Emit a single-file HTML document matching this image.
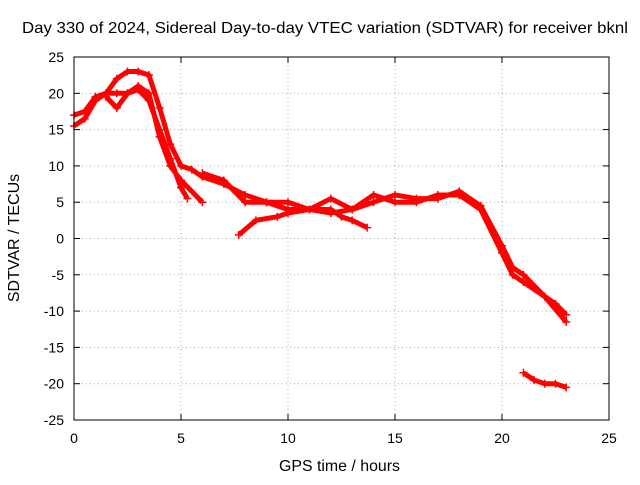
<!DOCTYPE html>
<html><head><meta charset="utf-8"><style>
body{margin:0;background:#fff}
svg text{font-family:"Liberation Sans",sans-serif;font-size:14px;fill:#000}
</style></head><body>
<svg id="chart" width="640" height="480">
<rect width="640" height="480" fill="#fff"/>
<text x="22" y="33" style="font-size:16px" textLength="606" lengthAdjust="spacingAndGlyphs">Day 330 of 2024, Sidereal Day-to-day VTEC variation (SDTVAR) for receiver bknl</text>
<text x="279" y="471" style="font-size:16px" textLength="121" lengthAdjust="spacingAndGlyphs">GPS time / hours</text>
<text transform="translate(19,238) rotate(-90)" style="font-size:16px" text-anchor="middle">SDTVAR / TECUs</text>
<g id="grid"></g>
<g id="axes"></g>
<g id="series"></g>
<rect x="74" y="57" width="535" height="363" fill="none" stroke="#000" stroke-width="1"/>
</svg>
<script>
const xTicks=[0,5,10,15,20,25];
const yTicks=[25,20,15,10,5,0,-5,-10,-15,-20,-25];
const trackA_x=[0,0.5,1,1.5,2,2.5,3,3.5,4,4.5,5,5.5,6,7,8,9,10,11,12,13,14,15,16,17,18,19,20,20.5,21,22,22.5,23];
const trackA_y=[17,17.5,19.5,20,22,23,23,22.5,18,13,10,9.5,8.5,7.5,6,5,4,4,3.5,4,5,6,5.5,5.5,6.5,4.5,-1,-4,-5,-8,-9,-10.5];
const trackB_x=[0,0.5,1,1.5,2,2.5,3,3.5,4,4.5,5,5.3];
const trackB_y=[15.5,16.5,19,20,20,20,20.5,19,15,11,7,5.5];
const trackC_x=[1.5,2,2.5,3,3.5,4,4.5,5,6];
const trackC_y=[19.5,18,20,21,20,14,10,8,5];
const trackD_x=[7.7,8.5,9.5,10,11,12,12.5,13,13.7];
const trackD_y=[0.5,2.5,3,3.5,4,4,3,2.5,1.5];
const trackE_x=[6,7,8,9,10,11,12,13,14,15,16,17,18,19,20,20.5,21,22,23];
const trackE_y=[9,8,5,5,5,4,5.5,4,6,5,5,6,6,4,-2,-5,-6,-8,-11.5];
const trackF_x=[21,21.5,22,22.5,23];
const trackF_y=[-18.5,-19.5,-20,-20,-20.5];
const tracks=[[trackA_x,trackA_y],[trackB_x,trackB_y],[trackC_x,trackC_y],[trackD_x,trackD_y],[trackE_x,trackE_y],[trackF_x,trackF_y]];
const X=v=>74+v*535/25, Y=v=>238.5-v*363/50;
const NS="http://www.w3.org/2000/svg";
const grid=document.getElementById('grid'),axes=document.getElementById('axes'),ser=document.getElementById('series');
function mk(t,a,p){const e=document.createElementNS(NS,t);for(const k in a)e.setAttribute(k,a[k]);p.appendChild(e);return e;}
xTicks.forEach(t=>{
 if(t>0&&t<25){const g=mk('line',{x1:X(t),x2:X(t),y1:57,y2:420,stroke:'#aaa','stroke-dasharray':'1,3'},grid);
 
 }
 const tx=mk('text',{x:X(t),y:443,'text-anchor':'middle'},axes);tx.textContent=t;
 
 
 mk('line',{x1:X(t),x2:X(t),y1:420,y2:414,stroke:'#000'},axes);mk('line',{x1:X(t),x2:X(t),y1:57,y2:63,stroke:'#000'},axes);
});
yTicks.forEach(t=>{
 if(t>-25&&t<25){const g=mk('line',{x1:74,x2:609,y1:Y(t),y2:Y(t),stroke:'#aaa','stroke-dasharray':'1,3'},grid);
 
 }
 const tx=mk('text',{x:64,y:Y(t)+5,'text-anchor':'end'},axes);tx.textContent=t;
 
 
 mk('line',{x1:74,x2:80,y1:Y(t),y2:Y(t),stroke:'#000'},axes);mk('line',{x1:609,x2:603,y1:Y(t),y2:Y(t),stroke:'#000'},axes);
});
tracks.forEach(([xs,ys])=>{
 const pl=mk('polyline',{points:xs.map((x,i)=>X(x)+','+Y(ys[i])).join(' '),fill:'none',stroke:'#f00','stroke-width':5,'stroke-linejoin':'round'},ser);
 
 
 xs.forEach((x,i)=>{const p=mk('path',{d:`M${X(x)-4},${Y(ys[i])}h8M${X(x)},${Y(ys[i])-4}v8`,stroke:'#f00','stroke-width':1.5},ser);
 
 });
});
</script>
</body></html>
